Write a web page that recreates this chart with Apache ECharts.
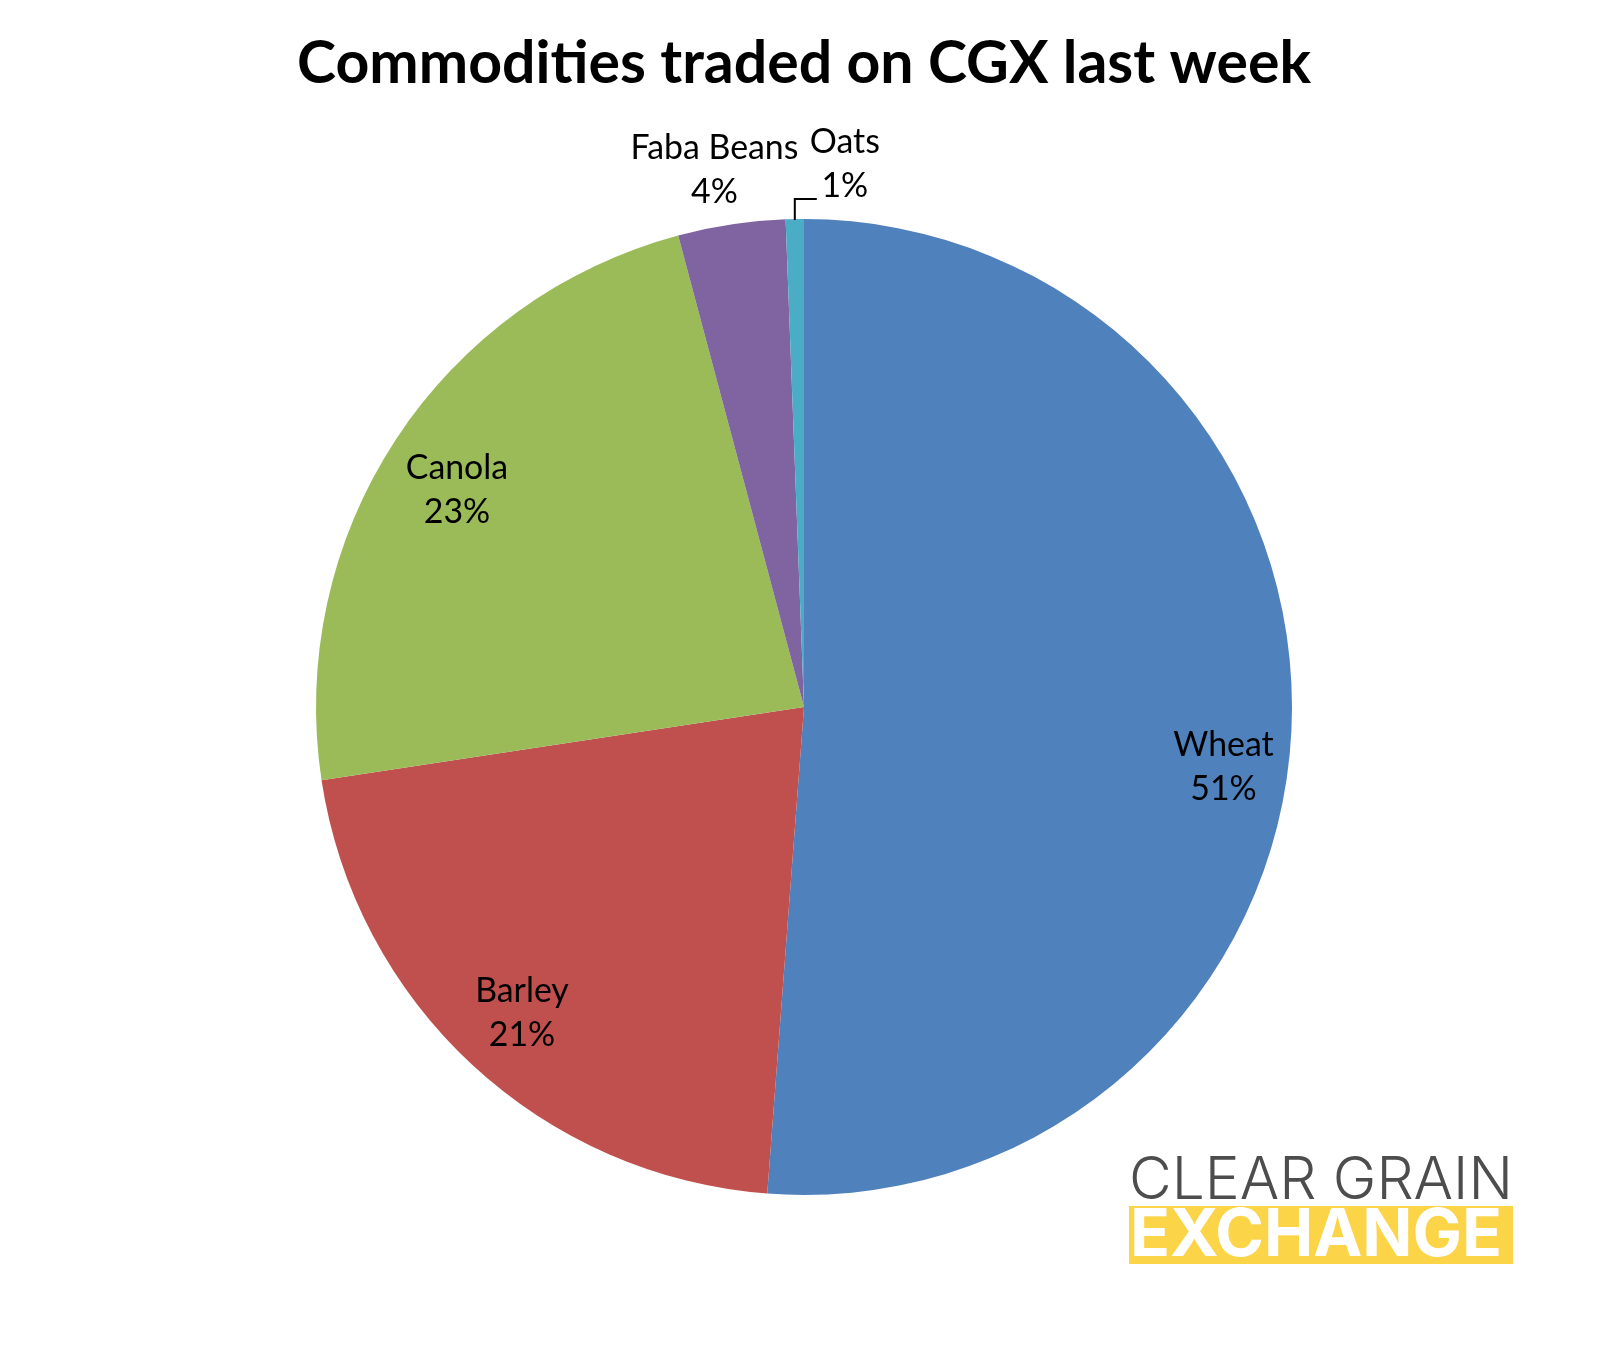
<!DOCTYPE html>
<html><head><meta charset="utf-8">
<script src="https://cdn.jsdelivr.net/npm/echarts@6/dist/echarts.min.js"></script>
<style>html,body{margin:0;padding:0;background:#fff}#c{width:1608px;height:1350px}</style>
</head><body><div id="c"></div>
<script>
const categories = ['Wheat', 'Barley', 'Canola', 'Faba Beans', 'Oats'];
const shares = [51.2, 21.4, 23.25, 3.55, 0.6];
const colors = ['#4F81BD', '#C0504D', '#9BBB59', '#8064A2', '#4BACC6'];
const titleText = 'Commodities traded on CGX last week';
const logoTop = 'CLEAR GRAIN';
const logoBottom = 'EXCHANGE';

const CX = 804, CY = 707, R = 488;
const total = shares.reduce((a, b) => a + b, 0);
function midAngle(i) { let s = 0; for (let k = 0; k < i; k++) s += shares[k]; return (s + shares[i] / 2) / total * 2 * Math.PI; }
function arcPoint(i, r) { const a = midAngle(i); return [CX + r * Math.sin(a), CY - r * Math.cos(a)]; }
const ctx = document.createElement('canvas').getContext('2d');
function fitSize(text, weight, family, target) { ctx.font = weight + ' 100px ' + family; return 100 * target / ctx.measureText(text).width; }

const LABEL_FONT = 'Lato';
const labelSize = fitSize('Faba Beans', 'normal', LABEL_FONT, 168);
const titleSize = fitSize(titleText, 'bold', 'Lato', 1014);
const logoTopSize = fitSize(logoTop, '300', 'Inter', 384);
const logoBottomSize = fitSize(logoBottom, 'bold', 'Inter', 372);

// label placement: [radius ratio, dx, dy]
const labelPlace = [[0.85, 5, 44], [0.85, 0, 2], [0.85, 0, 10], [1, -17, -54], [1, 50, -55]];

const chart = echarts.init(document.getElementById('c'), null, { renderer: 'canvas' });
const oatsIdx = categories.indexOf('Oats');
const op = arcPoint(oatsIdx, R);

chart.setOption({
  backgroundColor: '#ffffff',
  animation: false,
  title: {
    text: titleText, left: 'center', top: 29,
    textStyle: { fontFamily: 'Lato', fontWeight: 'bold', fontSize: titleSize, color: '#000' }
  },
  series: [{
    type: 'pie',
    center: [CX, CY],
    radius: [0, R],
    startAngle: 90,
    clockwise: true,
    avoidLabelOverlap: false,
    silent: true,
    itemStyle: { borderWidth: 0 },
    label: {
      show: true, position: 'inside', color: '#000',
      fontFamily: LABEL_FONT, fontSize: labelSize, lineHeight: 44,
      formatter: p => p.name + '\n' + Math.round(p.percent) + '%'
    },
    labelLine: { show: false },
    labelLayout: function (p) {
      const pl = labelPlace[p.dataIndex];
      const pt = arcPoint(p.dataIndex, R * pl[0]);
      return { x: pt[0] + pl[1], y: pt[1] + pl[2], align: 'center', verticalAlign: 'middle' };
    },
    data: categories.map((c, i) => ({ name: c, value: shares[i], itemStyle: { color: colors[i] } }))
  }],
  graphic: [
    { type: 'polyline', silent: true, z: 10,
      shape: { points: [[op[0], op[1] + 1], [op[0], op[1] - 20], [op[0] + 22, op[1] - 20]] },
      style: { stroke: '#000', lineWidth: 2, fill: null } },
    { type: 'text', silent: true, x: 1321, y: 1181,
      style: { text: logoTop, fontFamily: 'Inter', fontWeight: 300, fontSize: logoTopSize, fill: '#4d4d4d', align: 'center', verticalAlign: 'middle' } },
    { type: 'rect', silent: true, shape: { x: 1129, y: 1206, width: 384, height: 58 }, style: { fill: '#FCD448' } },
    { type: 'text', silent: true, x: 1316, y: 1236, z: 5,
      style: { text: logoBottom, fontFamily: 'Inter', fontWeight: 'bold', fontSize: logoBottomSize, fill: '#ffffff', align: 'center', verticalAlign: 'middle' } }
  ]
});
</script></body></html>
